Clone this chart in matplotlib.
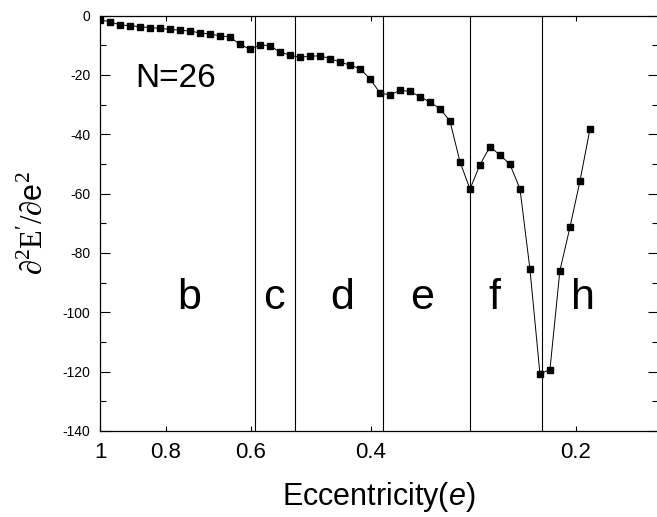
import matplotlib
matplotlib.use("Agg")
import matplotlib.pyplot as plt
from matplotlib.ticker import FixedLocator, MultipleLocator, NullLocator

plt.rcParams['font.family'] = ['Liberation Sans', 'DejaVu Sans']
plt.rcParams['axes.unicode_minus'] = False
plt.rcParams['mathtext.fontset'] = 'custom'
plt.rcParams['mathtext.rm'] = 'Liberation Serif'
plt.rcParams['mathtext.sf'] = 'Liberation Sans'
plt.rcParams['mathtext.it'] = 'Liberation Sans:italic'

# eccentricity values and second derivative
ecc = [1.0, 0.9667, 0.9346, 0.9035, 0.8734, 0.8444, 0.8163, 0.7891, 0.7629, 0.7375,
       0.7130, 0.6892, 0.6663, 0.6441, 0.6227, 0.6020, 0.5819, 0.5626, 0.5439, 0.5258,
       0.5083, 0.4914, 0.4750, 0.4592, 0.4439, 0.4292, 0.4149, 0.4011, 0.3877, 0.3748,
       0.3624, 0.3503, 0.3387, 0.3274, 0.3165, 0.3060, 0.2958, 0.2859, 0.2764, 0.2672,
       0.2584, 0.2498, 0.2414, 0.2334, 0.2256, 0.2181, 0.2109, 0.2038, 0.1970, 0.1905]
d2E = [-1.5, -2.1, -3.2, -3.4, -3.8, -4.1, -4.3, -4.7, -4.9, -5.3,
       -5.8, -6.3, -6.8, -7.3, -9.7, -11.4, -9.9, -10.2, -12.3, -13.4,
       -14.1, -13.7, -13.6, -14.5, -15.7, -16.7, -17.9, -21.3, -26.1, -26.8,
       -25.2, -25.6, -27.3, -29.2, -31.4, -35.5, -49.2, -58.5, -50.3, -44.2,
       -47.0, -50.1, -58.4, -85.4, -120.8, -119.3, -86.0, -71.3, -55.7, -38.3]

# region boundaries and labels
boundaries = [0.591, 0.517, 0.3833, 0.2854, 0.2237]
region_names = ['b', 'c', 'd', 'e', 'f', 'h']
region_x = [0.740, 0.555, 0.441, 0.336, 0.2634, 0.1949]

xticks = [1, 0.8, 0.6, 0.4, 0.2]
xticklabels = ['1', '0.8', '0.6', '0.4', '0.2']

fig = plt.figure(figsize=(6.57, 5.17), dpi=100)
ax = fig.add_axes([100 / 657, 1 - 431 / 517, 558 / 657, 415.5 / 517])

ax.plot(ecc, d2E, color='black', lw=0.7, marker='s', markersize=3.8)
for b in boundaries:
    ax.axvline(b, color='black', lw=0.8)

for name, xpos in zip(region_names, region_x):
    ax.text(xpos, -99, name, fontsize=31, ha='center', va='baseline')
ax.text(0.888, -24.1, 'N=26', fontsize=24, ha='left', va='baseline')

ax.set_xscale('log')
ax.set_xlim(1, 0.1513)
ax.set_ylim(-140, 0)
ax.xaxis.set_major_locator(FixedLocator(xticks))
ax.set_xticklabels(xticklabels)
ax.xaxis.set_minor_locator(NullLocator())
ax.yaxis.set_major_locator(MultipleLocator(20))
ax.yaxis.set_minor_locator(MultipleLocator(10))

ax.tick_params(axis='x', which='major', direction='in', top=True, length=3.5,
               width=0.8, labelsize=16, pad=8)
ax.tick_params(axis='y', which='major', direction='in', right=True, length=7,
               width=0.8, labelsize=10, pad=7)
ax.tick_params(axis='y', which='minor', direction='in', right=True, length=4,
               width=0.8)
for s in ax.spines.values():
    s.set_linewidth(0.9)

ax.set_xlabel(r"Eccentricity($\mathit{e}$)", fontsize=22, labelpad=12)
ax.set_ylabel(r"$\partial^2\mathrm{E}'/\partial\mathsf{e}^2$", fontsize=22, labelpad=10)

fig.savefig('out.png', dpi=100)
